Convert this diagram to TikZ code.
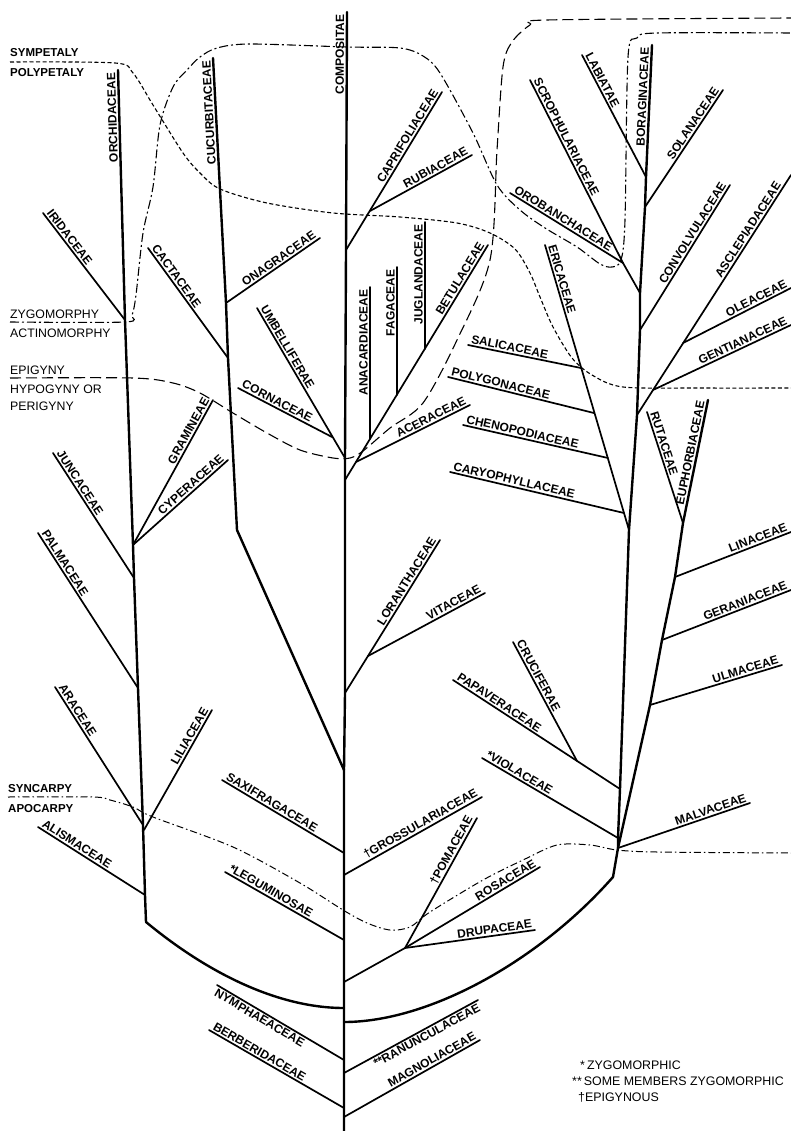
\documentclass[tikz,border=0pt]{standalone}
\usepackage{fontspec}
\setmainfont{Liberation Sans}
\tikzset{%
  trunk/.style = {line width=2.4pt, line join=round, line cap=round},
  twig/.style = {line width=1.7pt, line cap=round},
  fam/.style = {font=\bfseries\fontsize{12}{13}\selectfont, inner sep=1.5pt},
  le/.style = {fam, sloped, anchor=south west},
  re/.style = {fam, sloped, anchor=south east},
  ve/.style = {fam, sloped, allow upside down, anchor=south east},
  leb/.style = {fam, sloped, anchor=north west},
  reb/.style = {fam, sloped, anchor=north east},
  side/.style = {font=\fontsize{12.3}{13}\selectfont, anchor=base west, inner sep=0pt},
  sideb/.style = {side, font=\bfseries\fontsize{11.5}{13}\selectfont},
  key/.style = {font=\fontsize{12.4}{13}\selectfont, anchor=base west, inner sep=0pt},
  symline/.style = {line width=1.1pt, dash pattern=on 4pt off 2.5pt},
  zygline/.style = {line width=1.1pt, dash pattern=on 9pt off 3pt on 2pt off 3pt},
  epiline/.style = {line width=1.1pt, dash pattern=on 11pt off 5pt},
  synline/.style = {line width=1pt, dash pattern=on 7pt off 3pt on 1.5pt off 3pt}
}
\begin{document}
\begin{tikzpicture}[x=1pt, y=-1pt]
\useasboundingbox (0,0) rectangle (791,1131);

\coordinate (orc) at (118,70);
\coordinate (jIri) at (125,320);
\coordinate (jGra) at (133,545);
\coordinate (jJun) at (134,578);
\coordinate (jPal) at (138,688);
\coordinate (jAra) at (143,825);
\coordinate (jLil) at (144,830);
\coordinate (jAli) at (145,895);
\coordinate (mBot) at (146,922);
\coordinate (iri) at (43,213);
\coordinate (gra) at (213,400);
\coordinate (cyp) at (228,460);
\coordinate (jun) at (53,453);
\coordinate (pal) at (38,533);
\coordinate (ara) at (55,687);
\coordinate (lil) at (212,710);
\coordinate (ali) at (38,827);

\coordinate (cuc) at (213,58);
\coordinate (jOna) at (226,303);
\coordinate (jCac) at (228,358);
\coordinate (cBend) at (237,530);
\coordinate (ona) at (320,238);
\coordinate (cac) at (148,248);

\coordinate (cTop) at (347,12);
\coordinate (jCap) at (346,250);
\coordinate (jUmb) at (345,458);
\coordinate (jBet) at (345,480);
\coordinate (jLor) at (345,693);
\coordinate (jCuc) at (344,770);
\coordinate (jSax) at (344,853);
\coordinate (jGro) at (344,875);
\coordinate (jLeg) at (344,940);
\coordinate (jRos) at (344,982);
\coordinate (cL) at (344,1008);
\coordinate (cR) at (344,1022);
\coordinate (jNym) at (344,1060);
\coordinate (jRan) at (344,1073);
\coordinate (jBer) at (344,1108);
\coordinate (jMag) at (344,1117);
\coordinate (cBot) at (344,1131);
\coordinate (cap) at (442,92);
\coordinate (jRub) at (370,211);
\coordinate (rub) at (472,155);
\coordinate (umb) at (257,308);
\coordinate (cor) at (238,388);
\coordinate (jCor) at (332,437);
\coordinate (bet) at (488,245);
\coordinate (jAce) at (356,462);
\coordinate (ace) at (470,405);
\coordinate (jAna) at (370,439);
\coordinate (ana) at (370,287);
\coordinate (jFag) at (397,395);
\coordinate (fag) at (397,267);
\coordinate (jJug) at (425,349);
\coordinate (jug) at (425,222);
\coordinate (lor) at (440,540);
\coordinate (jVit) at (368,656);
\coordinate (vit) at (485,593);
\coordinate (sax) at (222,780);
\coordinate (gro) at (482,797);
\coordinate (leg) at (225,872);
\coordinate (jRg) at (405,948);
\coordinate (pom) at (477,818);
\coordinate (ros) at (540,867);
\coordinate (dru) at (535,930);
\coordinate (nym) at (217,985);
\coordinate (ran) at (478,1000);
\coordinate (ber) at (209,1030);
\coordinate (mag) at (480,1040);

\coordinate (rKnee) at (613,877);
\coordinate (jMal) at (618,848);
\coordinate (jVio) at (618,838);
\coordinate (jPap) at (620,789);
\coordinate (jEri) at (629,530);
\coordinate (jAsc) at (637,415);
\coordinate (jCon) at (640,330);
\coordinate (jScr) at (640,293);
\coordinate (jSol) at (645,207);
\coordinate (jLab) at (646,177);
\coordinate (bor) at (652,45);
\coordinate (mal) at (750,803);
\coordinate (vio) at (482,758);
\coordinate (pap) at (453,680);
\coordinate (jCru) at (577,761);
\coordinate (cru) at (513,642);
\coordinate (eri) at (545,245);
\coordinate (jCar) at (624,513);
\coordinate (car) at (450,472);
\coordinate (jChe) at (608,458);
\coordinate (che) at (463,425);
\coordinate (jPol) at (594,413);
\coordinate (pol) at (448,377);
\coordinate (jSal) at (581,368);
\coordinate (sal) at (468,345);
\coordinate (jGen) at (653,390);
\coordinate (gen) at (791,325);
\coordinate (jOle) at (683,343);
\coordinate (ole) at (791,288);
\coordinate (asc) at (791,175);
\coordinate (con) at (730,185);
\coordinate (jOro) at (623,263);
\coordinate (scr) at (530,80);
\coordinate (oro) at (510,193);
\coordinate (sol) at (723,90);
\coordinate (lab) at (582,55);
\coordinate (jUlm) at (650,705);
\coordinate (ulm) at (782,665);
\coordinate (jGer) at (662,640);
\coordinate (ger) at (791,590);
\coordinate (jLin) at (675,577);
\coordinate (lin) at (791,532);
\coordinate (jRut) at (683,523);
\coordinate (rut) at (647,412);
\coordinate (eup) at (708,400);

\draw[symline] plot[smooth, tension=0.5] coordinates {(10,62) (115,63) (133,73) (153,105) (183,153) (200,173) (220,189) (267,203) (333,213) (400,217) (457,223) (490,233) (515,249) (530,273) (540,297) (553,327) (572,358) (592,375) (623,387) (700,388) (791,388)};
\draw[zygline] plot[smooth, tension=0.5] coordinates {(10,322) (125,322) (132,315) (136,295) (143,233) (153,187) (160,125) (173,87) (187,70) (200,57) (217,48) (250,44) (347,47) (400,48) (423,56) (440,73) (473,133) (497,185) (520,210) (545,228) (577,247) (600,264) (612,267) (621,260) (625,220) (628,57) (637,38) (657,33) (791,33)};
\draw[epiline] plot[smooth, tension=0.5] coordinates {(10,378) (133,378) (173,383) (200,393) (233,413) (267,433) (300,450) (333,458) (350,458) (363,451) (390,428) (423,403) (457,340) (490,260) (497,150) (503,67) (512,42) (530,25) (547,20) (791,18)};
\draw[synline] plot[smooth, tension=0.5] coordinates {(8,797) (93,797) (110,800) (133,807) (153,817) (233,847) (300,883) (343,910) (367,923) (390,930) (410,927) (430,912) (483,880) (523,860) (557,845) (590,845) (617,850) (657,852) (791,853)};

\node[sideb] (tSym) at (10,57) {SYMPETALY};
\node[sideb] (tPly) at (10,77) {POLYPETALY};
\node[side] (tZyg) at (10,318) {ZYGOMORPHY};
\node[side] (tAct) at (10,337) {ACTINOMORPHY};
\node[side] (tEpi) at (10,374) {EPIGYNY};
\node[side] (tHyp) at (10,393) {HYPOGYNY OR};
\node[side] (tPer) at (10,410) {PERIGYNY};
\node[sideb] (tSyn) at (8,792) {SYNCARPY};
\node[sideb] (tApo) at (8,812) {APOCARPY};

\draw[trunk] (cL) .. controls (280,1008) and (210,975) .. (mBot) -- (jAli) -- (jAra) -- (jPal) -- (jJun) -- (jGra) -- (jIri) -- (orc) node[ve, at end] (tOrc) {ORCHIDACEAE};
\draw[trunk] (cBot) -- (jMag) -- (jBer) -- (jRan) -- (jNym) -- (cR) -- (cL) -- (jRos) -- (jLeg) -- (jGro) -- (jSax) -- (jCuc) -- (jLor) -- (jBet) -- (jUmb) -- (jCap) -- (cTop) node[ve, at end] (tCom) {COMPOSITAE};
\draw[trunk] (jCuc) -- (cBend) -- (jCac) -- (jOna) -- (cuc) node[ve, at end] (tCuc) {CUCURBITACEAE};
\draw[trunk] (cR) .. controls (430,1022) and (540,960) .. (rKnee) -- (jMal) -- (jVio) -- (jPap) -- (jEri) -- (jAsc) -- (jCon) -- (jScr) -- (jSol) -- (jLab) -- (bor) node[ve, at end] (tBor) {BORAGINACEAE};
\draw[trunk] (jMal) -- (jUlm) -- (jGer) -- (jLin) -- (jRut) -- (eup) node[ve, at end] (tEup) {EUPHORBIACEAE};

\draw[twig] (jIri) -- (iri) node[le, at end] (tIri) {IRIDACEAE};
\draw[twig] (jGra) -- (gra) node[re, at end] (tGra) {GRAMINEAE};
\draw[twig] (jGra) -- (cyp) node[re, at end] (tCyp) {CYPERACEAE};
\draw[twig] (jJun) -- (jun) node[le, at end] (tJun) {JUNCACEAE};
\draw[twig] (jPal) -- (pal) node[le, at end] (tPal) {PALMACEAE};
\draw[twig] (jAra) -- (ara) node[le, at end] (tAra) {ARACEAE};
\draw[twig] (jLil) -- (lil) node[re, at end] (tLil) {LILIACEAE};
\draw[twig] (jAli) -- (ali) node[le, at end] (tAli) {ALISMACEAE};
\draw[twig] (jOna) -- (ona) node[re, at end] (tOna) {ONAGRACEAE};
\draw[twig] (jCac) -- (cac) node[le, at end] (tCac) {CACTACEAE};

\draw[twig] (jCap) -- (cap) node[re, at end] (tCap) {CAPRIFOLIACEAE};
\draw[twig] (jRub) -- (rub) node[re, at end] (tRub) {RUBIACEAE};
\draw[twig] (jUmb) -- (umb) node[le, at end] (tUmb) {UMBELLIFERAE};
\draw[twig] (jCor) -- (cor) node[le, at end] (tCor) {CORNACEAE};
\draw[twig] (jBet) -- (bet) node[re, at end] (tBet) {BETULACEAE};
\draw[twig] (jAce) -- (ace) node[re, at end] (tAce) {ACERACEAE};
\draw[twig] (jAna) -- (ana) node[ve, at end] (tAna) {ANACARDIACEAE};
\draw[twig] (jFag) -- (fag) node[ve, at end] (tFag) {FAGACEAE};
\draw[twig] (jJug) -- (jug) node[ve, at end] (tJug) {JUGLANDACEAE};
\draw[twig] (jLor) -- (lor) node[re, at end] (tLor) {LORANTHACEAE};
\draw[twig] (jVit) -- (vit) node[re, at end] (tVit) {VITACEAE};
\draw[twig] (jSax) -- (sax) node[le, at end] (tSax) {SAXIFRAGACEAE};
\draw[twig] (jGro) -- (gro) node[re, at end] (tGro) {\textdagger GROSSULARIACEAE};
\draw[twig] (jLeg) -- (leg) node[le, at end] (tLeg) {*LEGUMINOSAE};
\draw[twig] (jRos) -- (jRg);
\draw[twig] (jRg) -- (pom) node[re, at end] (tPom) {\textdagger POMACEAE};
\draw[twig] (jRg) -- (ros) node[re, at end] (tRos) {ROSACEAE};
\draw[twig] (jRg) -- (dru) node[re, at end] (tDru) {DRUPACEAE};
\draw[twig] (jNym) -- (nym) node[leb, at end] (tNym) {NYMPHAEACEAE};
\draw[twig] (jBer) -- (ber) node[le, at end] (tBer) {BERBERIDACEAE};
\draw[twig] (jRan) -- (ran) node[reb, at end] (tRan) {**RANUNCULACEAE};
\draw[twig] (jMag) -- (mag) node[re, at end] (tMag) {MAGNOLIACEAE};

\draw[twig] (jLab) -- (lab) node[le, at end] (tLab) {LABIATAE};
\draw[twig] (jSol) -- (sol) node[re, at end] (tSol) {SOLANACEAE};
\draw[twig] (jScr) -- (jOro);
\draw[twig] (jOro) -- (scr) node[le, at end] (tScr) {SCROPHULARIACEAE};
\draw[twig] (jOro) -- (oro) node[le, at end] (tOro) {OROBANCHACEAE};
\draw[twig] (jCon) -- (con) node[re, at end] (tCon) {CONVOLVULACEAE};
\draw[twig] (jAsc) -- (asc) node[re, pos=0.96] (tAsc) {ASCLEPIADACEAE};
\draw[twig] (jGen) -- (gen) node[re, at end] (tGen) {GENTIANACEAE};
\draw[twig] (jOle) -- (ole) node[re, at end] (tOle) {OLEACEAE};
\draw[twig] (jEri) -- (eri) node[le, at end] (tEri) {ERICACEAE};
\draw[twig] (jSal) -- (sal) node[le, at end] (tSal) {SALICACEAE};
\draw[twig] (jPol) -- (pol) node[le, at end] (tPol) {POLYGONACEAE};
\draw[twig] (jChe) -- (che) node[le, at end] (tChe) {CHENOPODIACEAE};
\draw[twig] (jCar) -- (car) node[le, at end] (tCar) {CARYOPHYLLACEAE};
\draw[twig] (jPap) -- (pap) node[le, at end] (tPap) {PAPAVERACEAE};
\draw[twig] (jCru) -- (cru) node[le, at end] (tCru) {CRUCIFERAE};
\draw[twig] (jVio) -- (vio) node[le, at end] (tVio) {*VIOLACEAE};
\draw[twig] (jMal) -- (mal) node[re, at end] (tMal) {MALVACEAE};
\draw[twig] (jRut) -- (rut) node[le, at end] (tRut) {RUTACEAE};
\draw[twig] (jLin) -- (lin) node[re, at end] (tLin) {LINACEAE};
\draw[twig] (jGer) -- (ger) node[re, at end] (tGer) {GERANIACEAE};
\draw[twig] (jUlm) -- (ulm) node[re, at end] (tUlm) {ULMACEAE};

\node[key] (k1) at (580,1069) {*\,ZYGOMORPHIC};
\node[key] (k2) at (572,1085) {**\,SOME MEMBERS ZYGOMORPHIC};
\node[key] (k3) at (578,1101) {\textdagger EPIGYNOUS};
\end{tikzpicture}
\end{document}
